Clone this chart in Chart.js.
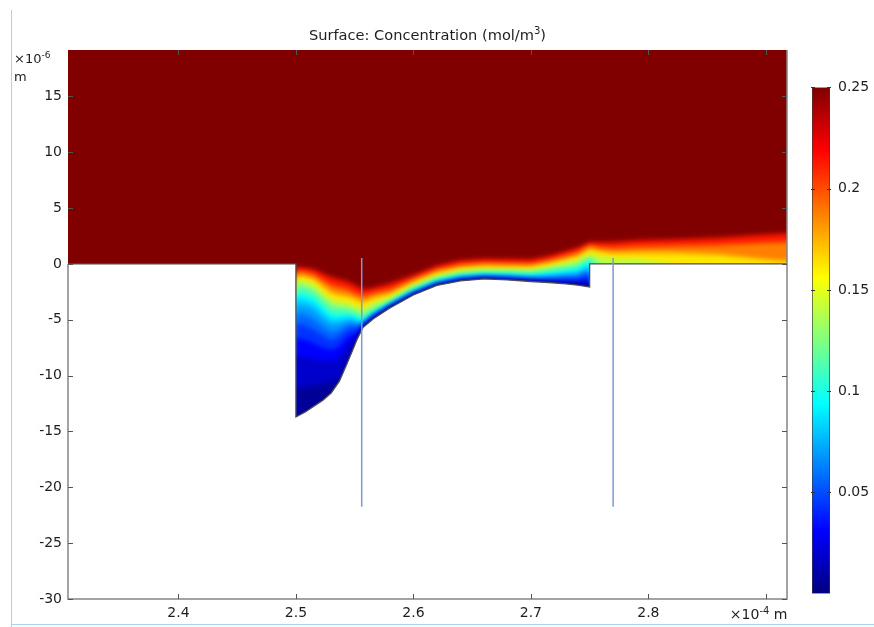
<!DOCTYPE html>
<html>
<head>
<meta charset="utf-8">
<script src="https://cdn.jsdelivr.net/npm/chart.js@4.4.1/dist/chart.umd.min.js"></script>
<style>
  html, body { margin: 0; padding: 0; background: #fff; }
  #wrap { position: relative; width: 874px; height: 627px; overflow: hidden; }
  #surface { position: absolute; left: 0; top: 0; }
  #colorbar { position: absolute; left: 800px; top: 71px; }
  .edge-v { position: absolute; left: 11px; top: 10px; width: 1px; height: 617px; background: #a9d3f2; }
  .edge-h { position: absolute; left: 11px; top: 624px; width: 863px; height: 1px; background: #a9d3f2; }
</style>
</head>
<body>
<div id="wrap">
  <div class="edge-v"></div>
  <div class="edge-h"></div>
  <canvas id="surface" width="874" height="627"></canvas>
  <canvas id="colorbar" width="74" height="539"></canvas>
</div>
<script>
// axes: x in 1e-4 m, y in 1e-6 m
const xRange = [2.306, 2.918];
const yRange = [-30, 19.16];
const xTicks = [2.4, 2.5, 2.6, 2.7, 2.8, 2.9];
const xTickLabels = ["2.4", "2.5", "2.6", "2.7", "2.8", ""];
const yTicks = [-30, -25, -20, -15, -10, -5, 0, 5, 10, 15];

// colour range (mol/m3)
const cRange = [0, 0.25];
const cTicks = [0.05, 0.1, 0.15, 0.2, 0.25];

// cavity floor, from the foot of the left wall to the foot of the step
const floorX = [2.5, 2.508, 2.515, 2.523, 2.53, 2.537, 2.543, 2.548, 2.552, 2.557, 2.566, 2.58, 2.6, 2.62, 2.64, 2.66, 2.68, 2.7, 2.715, 2.73, 2.74, 2.75];
const floorY = [-13.7, -13.25, -12.76, -12.2, -11.55, -10.5, -9.04, -7.8, -6.76, -5.7, -4.9, -3.94, -2.78, -1.92, -1.52, -1.34, -1.43, -1.57, -1.66, -1.79, -1.9, -2.06];

// the two cut lines
const cutX = [2.556, 2.77];
const cutY = [0.54, -21.75];

// concentration contours, sampled at gridX (null = contour has left the domain)
const gridX = [2.5, 2.508, 2.515, 2.523, 2.53, 2.537, 2.543, 2.548, 2.552, 2.557, 2.566, 2.58, 2.6, 2.62, 2.64, 2.66, 2.68, 2.7, 2.715, 2.73, 2.74, 2.75, 2.752, 2.758, 2.77, 2.79, 2.82, 2.86, 2.9, 2.93];
const contourLevels = [0.225, 0.2, 0.175, 0.15, 0.125, 0.1, 0.0875, 0.075, 0.0625, 0.05, 0.0375, 0.025, 0.0125];
const contour225 = [-0.27, -0.35, -0.5, -0.85, -1.2, -1.4, -1.55, -1.8, -2.0, -2.3, -2.15, -1.75, -1.0, -0.15, 0.3, 0.45, 0.42, 0.4, 0.7, 1.13, 1.45, 1.95, 1.95, 1.95, 1.95, 2.1, 2.2, 2.35, 2.65, 2.8];
const contour200 = [-0.63, -0.75, -0.95, -1.45, -1.9, -2.1, -2.25, -2.5, -2.7, -2.9, -2.6, -2.3, -1.37, -0.52, -0.07, 0.08, 0.05, 0.0, 0.31, 0.73, 1.05, 1.65, 1.62, 1.5, 1.4, 1.55, 1.6, 1.7, 1.9, 2.0];
const contour175 = [-1.0, -1.15, -1.35, -2.0, -2.55, -2.75, -2.85, -3.0, -3.2, -3.4, -3.05, -2.68, -1.64, -0.79, -0.34, -0.19, -0.22, -0.25, 0.05, 0.42, 0.7, 1.35, 1.3, 1.15, 0.95, 1.0, 1.0, 0.85, 0.4, 0.15];
const contour150 = [-1.4, -1.55, -1.8, -2.55, -3.15, -3.35, -3.45, -3.6, -3.8, -4.0, -3.5, -3.0, -1.9, -1.05, -0.6, -0.45, -0.47, -0.5, -0.22, 0.1, 0.38, 0.9, 0.85, 0.7, 0.45, 0.4, -0.05, null, null, null];
const contour125 = [-1.85, -2.05, -2.35, -3.1, -3.75, -3.9, -3.95, -4.1, -4.3, -4.5, -3.95, -3.3, -2.13, -1.28, -0.83, -0.68, -0.68, -0.72, -0.49, -0.21, 0.0, 0.6, 0.45, -0.05, null, null, null, null, null, null];
const contour100 = [-2.6, -2.75, -3.05, -3.85, -4.5, -4.55, -4.5, -4.6, -4.8, -5.0, -4.35, -3.5, -2.31, -1.46, -1.01, -0.86, -0.88, -0.94, -0.76, -0.57, -0.41, 0.22, -0.05, null, null, null, null, null, null, null];
const contour0875 = [-3.05, -3.25, -3.55, -4.35, -4.95, -4.95, -4.8, -4.85, -5.05, -5.2, -4.45, -3.9, null, null, null, null, null, null, null, null, null, null, null, null, null, null, null, null, null, null];
const contour075 = [-3.6, -3.8, -4.1, -4.85, -5.4, -5.3, -5.1, -5.1, -5.3, -5.35, -4.55, -3.65, -2.49, -1.64, -1.19, -1.04, -1.08, -1.16, -1.03, -0.88, -0.77, -0.22, null, null, null, null, null, null, null, null];
const contour0625 = [-4.4, -4.6, -4.95, -5.6, -6.1, -5.9, -5.5, -5.4, -5.55, -5.45, -4.85, null, null, null, null, null, null, null, null, null, null, null, null, null, null, null, null, null, null, null];
const contour050 = [-5.3, -5.5, -5.9, -6.4, -6.8, -6.5, -5.9, -5.7, -5.8, -5.5, -4.65, -3.75, -2.62, -1.77, -1.32, -1.17, -1.22, -1.32, -1.3, -1.19, -1.17, -0.72, null, null, null, null, null, null, null, null];
const contour0375 = [-6.6, -6.8, -7.1, -7.5, -7.7, -7.4, -6.6, -6.3, -6.2, -5.66, null, null, null, null, null, null, null, null, null, null, null, null, null, null, null, null, null, null, null, null];
const contour025 = [-8.2, -8.3, -8.5, -8.6, -8.7, -8.3, -7.3, -6.8, -6.4, -5.6, -4.78, -3.86, -2.71, -1.86, -1.43, -1.26, -1.34, -1.46, -1.52, -1.55, -1.57, -1.34, null, null, null, null, null, null, null, null];
const contour0125 = [-11.1, -11.0, -10.9, -10.8, -10.6, -10.2, -8.8, -7.65, -6.65, -5.65, -4.84, -3.9, -2.75, -1.89, -1.48, -1.3, -1.39, -1.52, -1.62, -1.75, -1.85, -1.79, null, null, null, null, null, null, null, null];
const contourY = [contour225, contour200, contour175, contour150, contour125, contour100, contour0875, contour075, contour0625, contour050, contour0375, contour025, contour0125];

const FONT = "'DejaVu Sans', 'Noto Sans', sans-serif";
const TEXT = "#1e1e1e";

// jet colormap over cRange
function jet(c) {
  const t = (c - cRange[0]) / (cRange[1] - cRange[0]);
  const ch = (o) => Math.round(255 * Math.max(0, Math.min(1, 1.5 - Math.abs(4 * t - o))));
  return `rgb(${ch(3)}, ${ch(2)}, ${ch(1)})`;
}

function drawRichText(ctx, parts, x, baseline, size, align) {
  const base = size + "px " + FONT;
  const sup = Math.round(size * 0.68) + "px " + FONT;
  const widthOf = (p) => {
    ctx.font = p.sup ? sup : base;
    return ctx.measureText(p.text).width;
  };
  const total = parts.reduce((s, p) => s + widthOf(p), 0);
  let cx = align === "center" ? x - total / 2 : x;
  ctx.textAlign = "left";
  ctx.textBaseline = "alphabetic";
  ctx.fillStyle = TEXT;
  parts.forEach((p) => {
    ctx.font = p.sup ? sup : base;
    ctx.fillText(p.text, cx, p.sup ? baseline - size * 0.38 : baseline);
    cx += ctx.measureText(p.text).width;
  });
}

// filled contour bands, drawn under the other datasets with a soft edge
const surfaceFill = {
  id: "surfaceFill",
  beforeDatasetsDraw(chart) {
    const { ctx, chartArea: a } = chart;
    ctx.save();
    ctx.beginPath();
    ctx.rect(a.left, a.top, a.right - a.left, a.bottom - a.top);
    ctx.clip();
    chart.data.datasets.forEach((ds, i) => {
      if (!ds.band) return;
      const pts = chart.getDatasetMeta(i).data;
      ctx.filter = ds.sharp ? "none" : "blur(2.6px)";
      ctx.beginPath();
      pts.forEach((p, k) => (k ? ctx.lineTo(p.x, p.y) : ctx.moveTo(p.x, p.y)));
      ctx.closePath();
      ctx.fillStyle = ds.bandColor;
      ctx.fill();
    });
    ctx.restore();
  },
};

// inward ticks, frame and the extra texts
const frameAndText = {
  id: "frameAndText",
  afterDatasetsDraw(chart) {
    const { ctx, chartArea: a } = chart;
    const x = chart.scales.x;
    const y = chart.scales.y;
    ctx.save();
    ctx.strokeStyle = "#858585";
    ctx.lineWidth = 1.5;
    ctx.beginPath();
    ctx.moveTo(a.left, y.getPixelForValue(0));
    ctx.lineTo(a.left, a.bottom);
    ctx.lineTo(a.right, a.bottom);
    ctx.lineTo(a.right, a.top);
    ctx.stroke();

    ctx.strokeStyle = "#555";
    ctx.lineWidth = 1;
    ctx.beginPath();
    xTicks.forEach((v) => {
      const px = Math.round(x.getPixelForValue(v)) + 0.5;
      ctx.moveTo(px, a.bottom);
      ctx.lineTo(px, a.bottom - 5);
      ctx.moveTo(px, a.top);
      ctx.lineTo(px, a.top + 5);
    });
    yTicks.forEach((v) => {
      const py = Math.round(y.getPixelForValue(v)) + 0.5;
      ctx.moveTo(a.left, py);
      ctx.lineTo(a.left + 5, py);
      ctx.moveTo(a.right, py);
      ctx.lineTo(a.right - 5, py);
    });
    ctx.stroke();

    drawRichText(ctx, [{ text: "Surface: Concentration (mol/m" }, { text: "3", sup: true }, { text: ")" }], (a.left + a.right) / 2, 40, 14.6, "center");
    drawRichText(ctx, [{ text: "×10" }, { text: "-6", sup: true }], 14, 63, 13, "left");
    drawRichText(ctx, [{ text: "m" }], 14, 81, 13, "left");
    drawRichText(ctx, [{ text: "×10" }, { text: "-4", sup: true }, { text: " m" }], x.getPixelForValue(2.9) - 36, a.bottom + 20, 14, "left");
    ctx.restore();
  },
};

function polygon(xs, ys) {
  return xs.map((x, k) => ({ x, y: ys[k] }));
}

const BOTTOM = -16;
const bandSets = contourLevels.map((level, i) => {
  const next = i + 1 < contourLevels.length ? contourLevels[i + 1] : cRange[0];
  const pts = [];
  gridX.forEach((gx, k) => {
    if (contourY[i][k] !== null) pts.push({ x: gx, y: contourY[i][k] });
  });
  pts.push({ x: pts[pts.length - 1].x, y: BOTTOM }, { x: gridX[0], y: BOTTOM });
  return {
    label: "c < " + level,
    data: pts,
    band: true,
    bandColor: jet((level + next) / 2),
    showLine: false,
    pointRadius: 0,
    pointHoverRadius: 0,
    order: 50,
  };
});

const baseSet = {
  label: "fluid",
  data: polygon([2.2, 3.0, 3.0, 2.2], [25, 25, -40, -40]),
  band: true,
  sharp: true,
  bandColor: jet(cRange[1]),
  showLine: false,
  pointRadius: 0,
  order: 60,
};

// outside of the domain, traced along its lower boundary
const outsideX = [2.2].concat(floorX.slice(0, 1), floorX, [2.75, 3.0, 3.0, 2.2]);
const outsideY = [0, 0].concat(floorY, [0, 0, -40, -40]);

const outsideSet = {
  label: "solid",
  data: polygon(outsideX, outsideY),
  showLine: true,
  fill: "shape",
  backgroundColor: "#ffffff",
  borderColor: "#4d4d4d",
  borderWidth: 1.3,
  pointRadius: 0,
  tension: 0,
  order: 5,
};

const cutSets = cutX.map((cx) => ({
  label: "cut " + cx,
  data: polygon([cx, cx], cutY),
  showLine: true,
  borderColor: "#7b9ad6",
  borderWidth: 1.5,
  pointRadius: 0,
  order: 1,
}));

new Chart(document.getElementById("surface"), {
  type: "scatter",
  data: { datasets: [baseSet].concat(bandSets, [outsideSet], cutSets) },
  options: {
    responsive: false,
    animation: false,
    events: [],
    layout: { padding: { left: 0, top: 50, right: 87, bottom: 0 } },
    plugins: { legend: { display: false }, tooltip: { enabled: false } },
    scales: {
      x: {
        type: "linear",
        min: xRange[0],
        max: xRange[1],
        afterBuildTicks: (s) => { s.ticks = xTicks.map((v) => ({ value: v })); },
        afterFit: (s) => { s.height = 28; },
        grid: { display: false, drawTicks: false },
        border: { display: false },
        ticks: {
          autoSkip: false,
          maxRotation: 0,
          padding: 6,
          color: TEXT,
          font: { family: FONT, size: 14 },
          callback: (v, i) => xTickLabels[i],
        },
      },
      y: {
        type: "linear",
        min: yRange[0],
        max: yRange[1],
        afterBuildTicks: (s) => { s.ticks = yTicks.map((v) => ({ value: v })); },
        afterFit: (s) => { s.width = 68; },
        grid: { display: false, drawTicks: false },
        border: { display: false },
        ticks: {
          autoSkip: false,
          padding: 6,
          color: TEXT,
          font: { family: FONT, size: 14 },
          callback: (v) => String(v),
        },
      },
    },
  },
  plugins: [surfaceFill, frameAndText],
});

// colour legend
const colorbarTicks = {
  id: "colorbarTicks",
  afterDatasetsDraw(chart) {
    const { ctx, chartArea: a } = chart;
    const y = chart.scales.y;
    ctx.save();
    ctx.strokeStyle = "#333";
    ctx.lineWidth = 1;
    ctx.beginPath();
    cTicks.forEach((v) => {
      const py = Math.round(y.getPixelForValue(v)) + 0.5;
      ctx.moveTo(a.left - 1, py);
      ctx.lineTo(a.left + 3, py);
      ctx.moveTo(a.right + 1, py);
      ctx.lineTo(a.right - 3, py);
    });
    ctx.stroke();
    ctx.restore();
  },
};

new Chart(document.getElementById("colorbar"), {
  type: "bar",
  data: {
    labels: [""],
    datasets: [{
      data: [cRange],
      backgroundColor: (context) => {
        const chart = context.chart;
        if (!chart.chartArea) return jet(cRange[1]);
        const y = chart.scales.y;
        const g = chart.ctx.createLinearGradient(0, y.getPixelForValue(cRange[0]), 0, y.getPixelForValue(cRange[1]));
        [0, 0.125, 0.375, 0.625, 0.875, 1].forEach((t) => g.addColorStop(t, jet(cRange[0] + t * (cRange[1] - cRange[0]))));
        return g;
      },
      borderColor: "#3a3a3a",
      borderWidth: 1,
      borderSkipped: false,
      barPercentage: 1,
      categoryPercentage: 1,
    }],
  },
  options: {
    responsive: false,
    animation: false,
    events: [],
    layout: { padding: { left: 12, top: 10, bottom: 13, right: 0 } },
    plugins: { legend: { display: false }, tooltip: { enabled: false } },
    scales: {
      x: { display: false },
      y: {
        position: "right",
        min: cRange[0],
        max: cRange[1],
        afterBuildTicks: (s) => { s.ticks = cTicks.map((v) => ({ value: v })); },
        afterFit: (s) => { s.width = 44; },
        grid: { display: false, drawTicks: false },
        border: { display: false },
        ticks: {
          padding: 8,
          color: TEXT,
          font: { family: FONT, size: 14 },
          callback: (v) => String(v),
        },
      },
    },
  },
  plugins: [colorbarTicks],
});
</script>
</body>
</html>
